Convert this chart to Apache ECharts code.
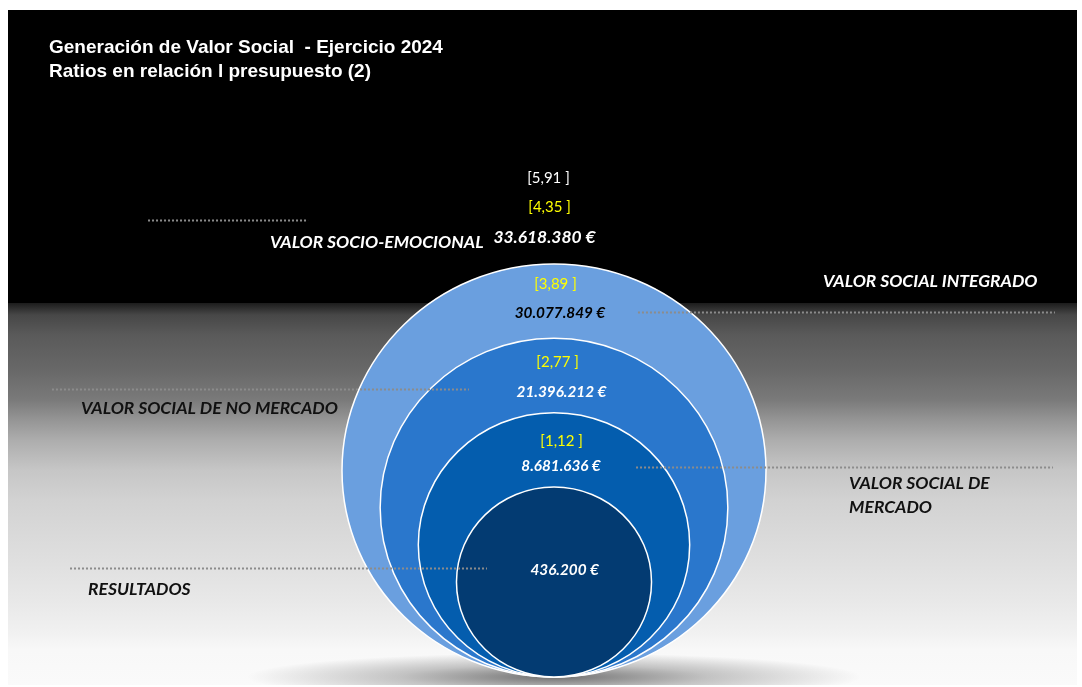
<!DOCTYPE html>
<html>
<head>
<meta charset="utf-8">
<script src="https://cdn.jsdelivr.net/npm/echarts@6/dist/echarts.min.js"></script>
<style>
  html, body { margin: 0; padding: 0; background: #ffffff; }
  #chart { width: 1082px; height: 687px; }
</style>
</head>
<body>
<div id="chart"></div>
<script>
// Value levels, listed from the widest concept down to the core result
const categories = ['VALOR SOCIO-EMOCIONAL', 'VALOR SOCIAL INTEGRADO', 'VALOR SOCIAL DE NO MERCADO', 'VALOR SOCIAL DE\nMERCADO', 'RESULTADOS'];
const amounts = [33618380, 30077849, 21396212, 8681636, 436200];
const ratios = [4.35, 3.89, 2.77, 1.12, null];
const ratiosTotal = [5.91, null, null, null, null];

// Nested circle geometry (radius in axis units; all circles rest on y = 0)
const ringRadius = [null, 1.0, 0.82, 0.64, 0.46];
const ringColors = [null, '#6a9fdf', '#2a77cc', '#045dae', '#033b72'];

// Label and leader placement per level, in axis units
const layout = [
  { ratio: [-0.021, 2.276], total: [-0.026, 2.416], amount: [-0.045, 2.131], amountSize: 17.4, leader: [-1.915, -1.160, 2.213], label: [-1.340, 2.107], labelColor: '#ffffff', amountColor: '#ffffff' },
  { ratio: [0.007, 1.903], amount: [0.028, 1.763], amountSize: 15.3, leader: [0.396, 2.363, 1.768], label: [1.269, 1.918], labelColor: '#ffffff', amountColor: '#000000' },
  { ratio: [0.017, 1.525], amount: [0.035, 1.380], amountSize: 15.3, leader: [-2.368, -0.401, 1.395], label: [-2.231, 1.303], labelColor: '#111111', amountColor: '#ffffff' },
  { ratio: [0.036, 1.143], amount: [0.033, 1.022], amountSize: 15.3, leader: [0.387, 2.354, 1.017], label: [1.392, 0.881], labelColor: '#111111', amountColor: '#ffffff' },
  { amount: [0.050, 0.518], amountSize: 15.3, leader: [-2.283, -0.316, 0.528], label: [-2.198, 0.426], labelColor: '#111111', amountColor: '#ffffff' }
];

const FONT = 'Lato, "Open Sans", sans-serif';

function fmtEuro(v) {
  return String(v).replace(/\B(?=(\d{3})+(?!\d))/g, '.') + ' €';
}
function fmtRatio(v) {
  return '[' + v.toFixed(2).replace('.', ',') + ' ]';
}

function textEl(pos, text, opts) {
  return {
    type: 'text',
    x: pos[0], y: pos[1],
    z2: 20,
    style: Object.assign({
      text: text,
      fontFamily: FONT,
      align: 'center',
      verticalAlign: 'middle'
    }, opts)
  };
}

const chart = echarts.init(document.getElementById('chart'), null, { renderer: 'canvas' });

const option = {
  backgroundColor: '#ffffff',
  animation: false,
  title: {
    text: 'Generación de Valor Social  - Ejercicio 2024\nRatios en relación l presupuesto (2)',
    left: 49, top: 36, padding: 0,
    textStyle: { color: '#ffffff', fontSize: 19, fontWeight: 'bold', fontFamily: '"Liberation Sans", Arial, sans-serif', lineHeight: 24 }
  },
  graphic: [
    // slide backdrop: black band on top, grey-to-white fade below
    { type: 'rect', z: -10, shape: { x: 8, y: 10, width: 1069, height: 294 }, style: { fill: '#000000' } },
    { type: 'rect', z: -10, shape: { x: 8, y: 303, width: 1069, height: 382 },
      style: { fill: { type: 'linear', x: 0, y: 0, x2: 0, y2: 1, colorStops: [
        { offset: 0, color: '#1c1c1c' },
        { offset: 0.031, color: '#474747' },
        { offset: 0.084, color: '#5a5a5a' },
        { offset: 0.175, color: '#686868' },
        { offset: 0.254, color: '#7a7a7a' },
        { offset: 0.306, color: '#959595' },
        { offset: 0.359, color: '#adadad' },
        { offset: 0.437, color: '#c6c6c6' },
        { offset: 0.516, color: '#d2d2d2' },
        { offset: 0.673, color: '#dfdfdf' },
        { offset: 0.777, color: '#e8e8e8' },
        { offset: 0.856, color: '#f0f0f0' },
        { offset: 0.908, color: '#f8f8f8' },
        { offset: 1, color: '#fafafa' }
      ] } } },
    { type: 'rect', z: 100, shape: { x: 0, y: 685, width: 1082, height: 2 }, style: { fill: '#ffffff' } }
  ],
  grid: { left: 24, right: 19.2, top: 16.2, bottom: 10 },
  xAxis: { type: 'value', min: -2.5, max: 2.4, show: false },
  yAxis: { type: 'value', min: 0, max: 3.2, show: false },
  series: [{
    type: 'custom',
    coordinateSystem: 'cartesian2d',
    data: categories.map(function (name, i) { return { name: name, value: [0, amounts[i]] }; }),
    renderItem: function (params, api) {
      const i = params.dataIndex;
      const L = layout[i];
      const r = ringRadius[i];
      const children = [];
      if (r != null) {
        const c = api.coord([0, r]);
        const s = api.size([r, r]);
        if (i === 1) {
          // soft floor shadow under the stack of circles
          const b = api.coord([0, 0]);
          const sr = s[0] * 1.45;
          children.push({
            type: 'circle',
            shape: { cx: b[0], cy: b[1], r: sr },
            originX: b[0], originY: b[1],
            scaleY: 24 / sr,
            style: { fill: { type: 'radial', x: 0.5, y: 0.5, r: 0.5, colorStops: [
              { offset: 0, color: 'rgba(0,0,0,0.55)' },
              { offset: 0.5, color: 'rgba(0,0,0,0.22)' },
              { offset: 1, color: 'rgba(0,0,0,0)' }
            ] } }
          });
        }
        children.push({
          type: 'ellipse',
          shape: { cx: c[0], cy: c[1], rx: s[0], ry: s[1] },
          style: { fill: ringColors[i], stroke: '#ffffff', lineWidth: 1.5 }
        });
      }
      // dotted leader line
      const p0 = api.coord([L.leader[0], L.leader[2]]);
      const p1 = api.coord([L.leader[1], L.leader[2]]);
      children.push({
        type: 'line', z2: 15,
        shape: { x1: p0[0], y1: Math.round(p0[1]) + 0.5, x2: p1[0], y2: Math.round(p1[1]) + 0.5 },
        style: { stroke: '#8c8c8c', lineWidth: 2, lineDash: [2, 2] }
      });
      // category name
      children.push(textEl(api.coord(L.label), categories[i], {
        align: 'left', fill: L.labelColor, fontSize: 17.5, fontWeight: 'bold', fontStyle: 'italic', lineHeight: 24
      }));
      // amount
      children.push(textEl(api.coord(L.amount), fmtEuro(api.value(1)), {
        fill: L.amountColor, fontSize: L.amountSize, fontWeight: 'bold', fontStyle: 'italic'
      }));
      // ratio over budget
      if (ratios[i] != null) {
        children.push(textEl(api.coord(L.ratio), fmtRatio(ratios[i]), {
          fill: '#ffff00', fontSize: 15
        }));
      }
      if (ratiosTotal[i] != null) {
        children.push(textEl(api.coord(L.total), fmtRatio(ratiosTotal[i]), {
          fill: '#ffffff', fontSize: 15
        }));
      }
      return { type: 'group', children: children };
    }
  }]
};

chart.setOption(option);
</script>
</body>
</html>
